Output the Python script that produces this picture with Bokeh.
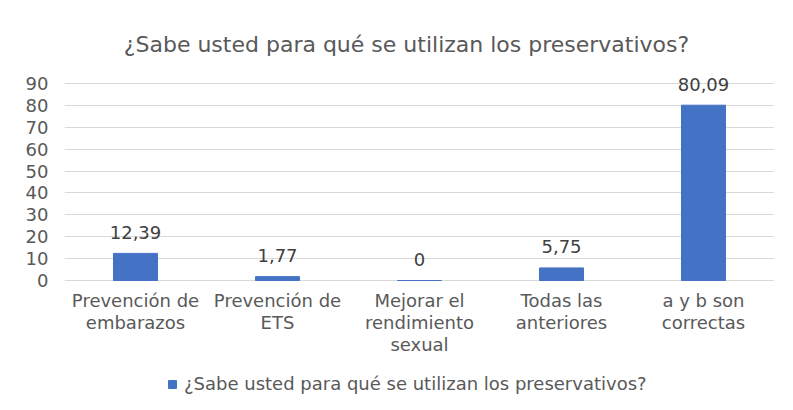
from bokeh.plotting import figure
from bokeh.models import ColumnDataSource, LabelSet, Label, Legend, LegendItem, FactorRange, Range1d
from bokeh.embed import file_html
from bokeh.resources import INLINE
from bokeh.core.properties import value

categories = ["Prevención de\nembarazos", "Prevención de\nETS", "Mejorar el\nrendimiento\nsexual",
              "Todas las\nanteriores", "a y b son\ncorrectas"]
values = [12.39, 1.77, 0, 5.75, 80.09]
value_labels = ["12,39", "1,77", "0", "5,75", "80,09"]
series_name = "¿Sabe usted para qué se utilizan los preservativos?"
title_text = "¿Sabe usted para qué se utilizan los preservativos?"
y_ticks = [0, 10, 20, 30, 40, 50, 60, 70, 80, 90]

FONT = "DejaVu Sans"
GRAY = "#595959"

# layout (pixels)
H = 410
ZERO_PX = 280          # canvas y of value 0
TOP_PX = 83            # canvas y of value 90
LINE_H = 22
unit = (ZERO_PX - TOP_PX) / 90.0
y_lo = -(H - ZERO_PX) / unit
y_hi = 90 + TOP_PX / unit

# split category names into centred lines
split = [c.split("\n") for c in categories]
n_lines = max(len(s) for s in split)
line_cols = {f"l{i}": [s[i] if i < len(s) else "" for s in split] for i in range(n_lines)}

src = ColumnDataSource(dict(cat=categories, val=values, lab=value_labels,
                            zero=[0] * len(values), **line_cols))

p = figure(x_range=FactorRange(*categories), y_range=Range1d(y_lo, y_hi),
           frame_width=710, frame_height=H,
           output_backend="svg", toolbar_location=None,
           min_border_left=64, min_border_right=19, min_border_top=0, min_border_bottom=0)

r = p.vbar(x="cat", top="val", width=0.31, source=src, color="#4472C4")

labels = LabelSet(x="cat", y="val", text="lab", source=src, text_align="center",
                  text_baseline="middle", y_offset=21, text_font=value(FONT),
                  text_font_size="18px", text_color="#404040")
p.add_layout(labels)

for i in range(n_lines):
    p.add_layout(LabelSet(x="cat", y="zero", text=f"l{i}", source=src, text_align="center",
                          text_baseline="middle", y_offset=-(20 + LINE_H * i),
                          text_font=value(FONT), text_font_size="18px", text_color=GRAY))

title = Label(x=342, y=H - 44, x_units="screen", y_units="screen", text=title_text,
              text_align="center", text_baseline="middle", text_font=FONT,
              text_font_size="22px", text_color=GRAY)
p.add_layout(title)

p.yaxis.ticker = y_ticks
p.yaxis.axis_line_color = None
p.yaxis.major_tick_line_color = None
p.yaxis.minor_tick_line_color = None
p.yaxis.major_label_text_font = FONT
p.yaxis.major_label_text_font_size = "18px"
p.yaxis.major_label_text_color = GRAY
p.yaxis.major_label_standoff = 10

p.xaxis.visible = False

p.xgrid.grid_line_color = None
p.ygrid.ticker = y_ticks
p.ygrid.grid_line_color = "#d9d9d9"
p.outline_line_color = None

legend = Legend(items=[LegendItem(label=series_name, renderers=[r])],
                location=(103, 16), orientation="horizontal",
                label_text_font=FONT, label_text_font_size="18px",
                label_text_color=GRAY, glyph_width=10, glyph_height=10,
                label_standoff=7, border_line_color=None, background_fill_alpha=0,
                margin=0, padding=0)
p.add_layout(legend, "center")

open("out.html", "w").write(file_html(p, INLINE))
